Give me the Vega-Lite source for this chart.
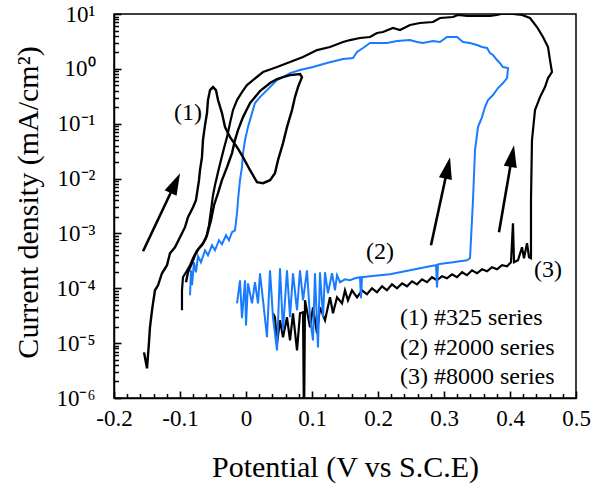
{
  "$schema": "https://vega.github.io/schema/vega-lite/v6.json",
  "width": 462,
  "height": 384,
  "autosize": {"type": "none"},
  "padding": {"left": 114, "top": 14, "right": 15, "bottom": 98},
  "background": "white",
  "config": {
    "view": {"stroke": "black", "strokeWidth": 1.5},
    "font": "Liberation Serif",
    "axis": {
      "domainColor": "black", "domainWidth": 1.5,
      "tickColor": "black", "tickWidth": 1.5,
      "labelColor": "black", "titleColor": "black",
      "grid": false,
      "labelFont": "Liberation Serif", "titleFont": "Liberation Serif",
      "titleFontWeight": "normal"
    }
  },
  "datasets": {
    "s1": [
      {"x":-0.1545,"y":6.79e-6},{"x":-0.15,"y":3.47e-6},{"x":-0.147,"y":1.035e-5},{"x":-0.1455,"y":1.94e-5},{"x":-0.1424,"y":3.97e-5},{"x":-0.1409,"y":5.32e-5},{"x":-0.1379,"y":9.2e-5},{"x":-0.1333,"y":1.135e-4},{"x":-0.1273,"y":1.88e-4},{"x":-0.1197,"y":2.63e-4},{"x":-0.1152,"y":4.35e-4},{"x":-0.1076,"y":5.6e-4},{"x":-0.1,"y":8.53e-4},{"x":-0.0924,"y":1.3e-3},{"x":-0.0879,"y":1.98e-3},{"x":-0.0803,"y":3.0e-3},{"x":-0.0758,"y":4.04e-3},{"x":-0.0712,"y":9.35e-3},{"x":-0.0697,"y":1.42e-2},{"x":-0.0667,"y":2.46e-2},{"x":-0.0652,"y":5.02e-2},{"x":-0.0621,"y":9.42e-2},{"x":-0.0591,"y":0.156},{"x":-0.0576,"y":0.27},{"x":-0.0545,"y":0.41},{"x":-0.05,"y":0.466},{"x":-0.0455,"y":0.41},{"x":-0.0424,"y":0.27},{"x":-0.0364,"y":0.156},{"x":-0.0318,"y":8.67e-2},{"x":-0.0242,"y":5.69e-2},{"x":-0.0136,"y":3.74e-2},{"x":-0.0045,"y":2.46e-2},{"x":0.0061,"y":1.42e-2},{"x":0.0167,"y":8.59e-3},{"x":0.0258,"y":8.24e-3},{"x":0.0364,"y":9.35e-3},{"x":0.0439,"y":1.256e-2},{"x":0.0485,"y":2.17e-2},{"x":0.0561,"y":4.43e-2},{"x":0.0621,"y":8.67e-2},{"x":0.0697,"y":0.177},{"x":0.0742,"y":0.306},{"x":0.0788,"y":0.466},{"x":0.0848,"y":0.708},{"x":0.0818,"y":0.804},{"x":0.0667,"y":0.77},{"x":0.0561,"y":0.708},{"x":0.047,"y":0.652},{"x":0.0364,"y":0.551},{"x":0.0212,"y":0.394},{"x":0.0061,"y":0.238},{"x":-0.0045,"y":0.132},{"x":-0.0121,"y":7.64e-2},{"x":-0.0167,"y":5.02e-2},{"x":-0.0212,"y":2.91e-2},{"x":-0.0288,"y":1.61e-2},{"x":-0.0364,"y":9.35e-3},{"x":-0.0424,"y":5.42e-3},{"x":-0.0485,"y":3.27e-3},{"x":-0.053,"y":1.74e-3},{"x":-0.0591,"y":9.27e-4},{"x":-0.0652,"y":6.62e-4},{"x":-0.0712,"y":5.37e-4},{"x":-0.0773,"y":4.0e-4},{"x":-0.0833,"y":2.63e-4},{"x":-0.0879,"y":1.96e-4},{"x":-0.0909,"y":1.29e-4}
    ],
    "s2": [
      {"x":-0.0136,"y":5.32e-5},{"x":-0.0091,"y":1.4e-4},{"x":-0.0061,"y":2.84e-5},{"x":-0.0015,"y":1.4e-4},{"x":0.0,"y":2.11e-5},{"x":0.003,"y":1.23e-4},{"x":0.0091,"y":5.32e-5},{"x":0.0136,"y":1.29e-4},{"x":0.0182,"y":5.32e-5},{"x":0.0212,"y":1.88e-4},{"x":0.0258,"y":6.04e-5},{"x":0.0318,"y":1.28e-5},{"x":0.0364,"y":2.13e-4},{"x":0.0409,"y":2.96e-5},{"x":0.047,"y":7.39e-6},{"x":0.0515,"y":2.32e-4},{"x":0.0561,"y":1.71e-5},{"x":0.0621,"y":2.13e-4},{"x":0.0667,"y":2.96e-5},{"x":0.0712,"y":1.88e-4},{"x":0.0773,"y":3.97e-5},{"x":0.0818,"y":2.13e-4},{"x":0.0864,"y":6.04e-5},{"x":0.0924,"y":2.13e-4},{"x":0.097,"y":2.96e-5},{"x":0.1015,"y":1.12e-5},{"x":0.1045,"y":1.88e-4},{"x":0.1091,"y":8.38e-6},{"x":0.1121,"y":1.96e-4},{"x":0.1167,"y":2.96e-5},{"x":0.1197,"y":1.96e-4},{"x":0.1242,"y":8.11e-5},{"x":0.1303,"y":1.88e-4},{"x":0.1348,"y":9.2e-5},{"x":0.1379,"y":1.73e-4},{"x":0.1424,"y":1.29e-4},{"x":0.15,"y":1.46e-4},{"x":0.1576,"y":1.4e-4},{"x":0.1652,"y":1.52e-4},{"x":0.1727,"y":1.59e-4},{"x":0.1742,"y":6.58e-5},{"x":0.1758,"y":1.59e-4},{"x":0.1879,"y":1.66e-4},{"x":0.203,"y":1.73e-4},{"x":0.2182,"y":1.8e-4},{"x":0.2333,"y":1.96e-4},{"x":0.2485,"y":2.13e-4},{"x":0.2636,"y":2.32e-4},{"x":0.2788,"y":2.52e-4},{"x":0.2879,"y":2.63e-4},{"x":0.2894,"y":1.04e-4},{"x":0.2909,"y":2.74e-4},{"x":0.3015,"y":2.86e-4},{"x":0.3136,"y":2.98e-4},{"x":0.3242,"y":3.11e-4},{"x":0.3348,"y":3.24e-4},{"x":0.3394,"y":3.53e-4},{"x":0.3424,"y":1.74e-3},{"x":0.3439,"y":4.04e-3},{"x":0.347,"y":3.3e-2},{"x":0.3515,"y":8.67e-2},{"x":0.3576,"y":0.132},{"x":0.3621,"y":0.201},{"x":0.3667,"y":0.27},{"x":0.3742,"y":0.333},{"x":0.3818,"y":0.447},{"x":0.3894,"y":0.551},{"x":0.3955,"y":0.679},{"x":0.397,"y":1.034},{"x":0.3894,"y":1.08},{"x":0.3848,"y":1.276},{"x":0.3803,"y":1.447},{"x":0.3742,"y":1.786},{"x":0.3697,"y":1.94},{"x":0.3652,"y":2.4},{"x":0.3576,"y":2.5},{"x":0.35,"y":2.72},{"x":0.3394,"y":2.96},{"x":0.3288,"y":3.08},{"x":0.3197,"y":3.8},{"x":0.3045,"y":3.8},{"x":0.2939,"y":3.08},{"x":0.2833,"y":3.22},{"x":0.2682,"y":2.96},{"x":0.2591,"y":3.08},{"x":0.2485,"y":3.35},{"x":0.2288,"y":3.22},{"x":0.2136,"y":2.96},{"x":0.1985,"y":2.96},{"x":0.1879,"y":2.96},{"x":0.1773,"y":2.4},{"x":0.1682,"y":2.03},{"x":0.1621,"y":1.575},{"x":0.147,"y":1.51},{"x":0.1227,"y":1.276},{"x":0.1015,"y":1.08},{"x":0.0818,"y":0.951},{"x":0.0667,"y":0.838},{"x":0.0561,"y":0.708},{"x":0.047,"y":0.625},{"x":0.0318,"y":0.41},{"x":0.0212,"y":0.306},{"x":0.0136,"y":0.238},{"x":0.0091,"y":0.156},{"x":0.003,"y":8.67e-2},{"x":-0.0015,"y":5.02e-2},{"x":-0.0045,"y":2.91e-2},{"x":-0.0061,"y":1.61e-2},{"x":-0.0091,"y":9.35e-3},{"x":-0.0121,"y":4.04e-3},{"x":-0.0136,"y":2.34e-3},{"x":-0.0167,"y":1.14e-3},{"x":-0.0212,"y":1.05e-3},{"x":-0.0258,"y":7.51e-4},{"x":-0.0303,"y":9.27e-4},{"x":-0.0364,"y":6.35e-4},{"x":-0.0409,"y":7.51e-4},{"x":-0.047,"y":4.93e-4},{"x":-0.0515,"y":6.09e-4},{"x":-0.0576,"y":4.0e-4},{"x":-0.0621,"y":4.93e-4},{"x":-0.0682,"y":2.98e-4},{"x":-0.0727,"y":3.84e-4},{"x":-0.0758,"y":1.96e-4},{"x":-0.0788,"y":2.98e-4},{"x":-0.0818,"y":1.135e-4},{"x":-0.0833,"y":2.13e-4},{"x":-0.0848,"y":7.45e-5}
    ],
    "s3": [
      {"x":0.0409,"y":3.5e-5},{"x":0.0439,"y":2.96e-5},{"x":0.047,"y":9.9e-6},{"x":0.0515,"y":2.61e-5},{"x":0.0561,"y":1.28e-5},{"x":0.0621,"y":2.96e-5},{"x":0.0667,"y":1.12e-5},{"x":0.0712,"y":3.5e-5},{"x":0.0773,"y":7.39e-6},{"x":0.0818,"y":3.5e-5},{"x":0.0864,"y":3.65e-5},{"x":0.0879,"y":2.56e-7},{"x":0.0894,"y":6.04e-5},{"x":0.097,"y":1.94e-5},{"x":0.1015,"y":4.5e-5},{"x":0.1076,"y":1.51e-5},{"x":0.1121,"y":4.5e-5},{"x":0.1197,"y":2.61e-5},{"x":0.1273,"y":6.85e-5},{"x":0.1318,"y":3.5e-5},{"x":0.1379,"y":6.85e-5},{"x":0.1455,"y":5.32e-5},{"x":0.15,"y":9.2e-5},{"x":0.1545,"y":6.04e-5},{"x":0.1606,"y":9.2e-5},{"x":0.1682,"y":6.85e-5},{"x":0.1758,"y":9.2e-5},{"x":0.1833,"y":7.78e-5},{"x":0.1909,"y":1.0e-4},{"x":0.1985,"y":8.45e-5},{"x":0.2061,"y":1.087e-4},{"x":0.2136,"y":9.2e-5},{"x":0.2212,"y":1.18e-4},{"x":0.2288,"y":1.0e-4},{"x":0.2364,"y":1.23e-4},{"x":0.2439,"y":1.087e-4},{"x":0.2515,"y":1.34e-4},{"x":0.2591,"y":1.18e-4},{"x":0.2667,"y":1.46e-4},{"x":0.2742,"y":1.29e-4},{"x":0.2818,"y":1.59e-4},{"x":0.2894,"y":1.4e-4},{"x":0.297,"y":1.66e-4},{"x":0.3045,"y":1.52e-4},{"x":0.3121,"y":1.8e-4},{"x":0.3197,"y":1.59e-4},{"x":0.3273,"y":1.96e-4},{"x":0.3348,"y":1.73e-4},{"x":0.3424,"y":2.13e-4},{"x":0.35,"y":1.88e-4},{"x":0.3576,"y":2.22e-4},{"x":0.3652,"y":2.04e-4},{"x":0.3727,"y":2.42e-4},{"x":0.3803,"y":2.22e-4},{"x":0.3879,"y":2.63e-4},{"x":0.3955,"y":2.52e-4},{"x":0.4015,"y":2.98e-4},{"x":0.4045,"y":1.53e-3},{"x":0.4061,"y":2.98e-4},{"x":0.4121,"y":3.24e-4},{"x":0.4182,"y":5.6e-4},{"x":0.4212,"y":3.53e-4},{"x":0.4258,"y":6.62e-4},{"x":0.4288,"y":3.68e-4},{"x":0.4318,"y":3.53e-4},{"x":0.4318,"y":4.04e-3},{"x":0.4333,"y":5.02e-2},{"x":0.4379,"y":0.177},{"x":0.4455,"y":0.306},{"x":0.453,"y":0.466},{"x":0.4576,"y":0.679},{"x":0.4636,"y":0.874},{"x":0.4606,"y":1.447},{"x":0.4576,"y":2.5},{"x":0.45,"y":3.8},{"x":0.4409,"y":5.79},{"x":0.4303,"y":8.45},{"x":0.4182,"y":9.59},{"x":0.4045,"y":10.0},{"x":0.3894,"y":10.2},{"x":0.3803,"y":9.59},{"x":0.3697,"y":9.19},{"x":0.3545,"y":9.19},{"x":0.3348,"y":9.19},{"x":0.3212,"y":9.59},{"x":0.3136,"y":8.81},{"x":0.2939,"y":8.45},{"x":0.2833,"y":7.14},{"x":0.2636,"y":6.85},{"x":0.2485,"y":6.3},{"x":0.2333,"y":5.11},{"x":0.2227,"y":5.55},{"x":0.2076,"y":4.69},{"x":0.1985,"y":4.5},{"x":0.1879,"y":3.8},{"x":0.1727,"y":3.65},{"x":0.1576,"y":3.35},{"x":0.147,"y":3.08},{"x":0.1273,"y":2.5},{"x":0.1076,"y":2.2},{"x":0.0864,"y":1.64},{"x":0.0667,"y":1.33},{"x":0.047,"y":1.08},{"x":0.0258,"y":0.874},{"x":0.0106,"y":0.625},{"x":0.0015,"y":0.506},{"x":-0.0061,"y":0.377},{"x":-0.0136,"y":0.27},{"x":-0.0197,"y":0.177},{"x":-0.0242,"y":0.1026},{"x":-0.0288,"y":5.69e-2},{"x":-0.0333,"y":3.59e-2},{"x":-0.0379,"y":2.17e-2},{"x":-0.0424,"y":1.31e-2},{"x":-0.047,"y":7.58e-3},{"x":-0.05,"y":4.98e-3},{"x":-0.053,"y":2.65e-3},{"x":-0.0561,"y":1.41e-3},{"x":-0.0606,"y":8.17e-4},{"x":-0.0667,"y":6.09e-4},{"x":-0.0742,"y":4.93e-4},{"x":-0.0803,"y":3.53e-4},{"x":-0.0848,"y":2.63e-4},{"x":-0.0909,"y":1.96e-4},{"x":-0.0955,"y":1.59e-4},{"x":-0.097,"y":9.2e-5},{"x":-0.097,"y":3.97e-5}
    ],
    "arrows": [
      {"arrow":"A","part":"tail","x":-0.156,"y":4.73e-4},{"arrow":"A","part":"head","x":-0.1071,"y":8.28e-3},
      {"arrow":"B","part":"tail","x":0.2803,"y":6.09e-4},{"arrow":"B","part":"head","x":0.3056,"y":1.56e-2},
      {"arrow":"C","part":"tail","x":0.3833,"y":1.05e-3},{"arrow":"C","part":"head","x":0.4032,"y":2.58e-2}
    ],
    "labels": [
      {"text":"(1)","x":-0.0879,"y":0.156},
      {"text":"(2)","x":0.203,"y":4.54e-4},
      {"text":"(3)","x":0.4576,"y":2.13e-4}
    ],
    "legend": [
      {"text":"(1) #325 series","x":0.2333,"y":2.84e-5},
      {"text":"(2) #2000 series","x":0.2333,"y":8.04e-6},
      {"text":"(3) #8000 series","x":0.2333,"y":2.38e-6}
    ]
  },
  "layer": [
    {
      "encoding": {
        "x": {
          "field": "x", "type": "quantitative",
          "scale": {"domain": [-0.2, 0.5], "nice": false, "zero": false},
          "axis": {
            "orient": "bottom",
            "values": [-0.2, -0.1, 0, 0.1, 0.2, 0.3, 0.4, 0.5],
            "labelExpr": "toString(round(datum.value*10)/10)",
            "labelFlush": false, "labelOverlap": false,
            "ticks": false, "labelPadding": 9, "labelFontSize": 23,
            "title": "Potential (V vs S.C.E)", "titleFontSize": 30,
            "titleY": 69, "titleBaseline": "middle"
          }
        },
        "y": {
          "field": "y", "type": "quantitative",
          "scale": {"type": "log", "domain": [1e-6, 10], "nice": false},
          "axis": {
            "orient": "left",
            "values": [1e-6, 1e-5, 1e-4, 1e-3, 0.01, 0.1, 1, 10],
            "labelExpr": "'10' + (datum.value < 0.5 ? '⁻' : '') + ['⁰','¹','²','³','⁴','⁵','⁶'][abs(round(log(datum.value)/LN10))]",
            "labelOverlap": false, "labelFlush": false,
            "ticks": false, "labelPadding": 19, "labelFontSize": 23,
            "title": "Current density (mA/cm²)", "titleFontSize": 30,
            "titleX": -86, "titleY": 188, "titleAngle": -90,
            "titleAlign": "center", "titleBaseline": "middle"
          }
        }
      },
      "layer": [
        {"data": {"name": "s3"}, "mark": {"type": "line", "color": "black", "strokeWidth": 2.2, "clip": true}, "encoding": {"order": {"value": null}}},
        {"data": {"name": "s2"}, "mark": {"type": "line", "color": "#1a7bff", "strokeWidth": 2, "clip": true}, "encoding": {"order": {"value": null}}},
        {"data": {"name": "s1"}, "mark": {"type": "line", "color": "black", "strokeWidth": 2.4, "clip": true}, "encoding": {"order": {"value": null}}},
        {"data": {"name": "arrows"}, "mark": {"type": "line", "color": "black", "strokeWidth": 2.6}, "encoding": {"detail": {"field": "arrow"}}},
        {"data": {"name": "arrows"}, "transform": [{"filter": "datum.part == 'head' && datum.arrow == 'A'"}], "mark": {"type": "point", "shape": "M0,-1L0.6,1L-0.6,1Z", "size": 484, "filled": true, "color": "black", "opacity": 1, "angle": 25.4}},
        {"data": {"name": "arrows"}, "transform": [{"filter": "datum.part == 'head' && datum.arrow == 'B'"}], "mark": {"type": "point", "shape": "M0,-1L0.6,1L-0.6,1Z", "size": 484, "filled": true, "color": "black", "opacity": 1, "angle": 12.2}},
        {"data": {"name": "arrows"}, "transform": [{"filter": "datum.part == 'head' && datum.arrow == 'C'"}], "mark": {"type": "point", "shape": "M0,-1L0.6,1L-0.6,1Z", "size": 484, "filled": true, "color": "black", "opacity": 1, "angle": 9.8}},
        {"data": {"name": "labels"}, "mark": {"type": "text", "font": "Liberation Serif", "fontSize": 24, "align": "center", "baseline": "middle", "color": "black"}, "encoding": {"text": {"field": "text"}}},
        {"data": {"name": "legend"}, "mark": {"type": "text", "font": "Liberation Serif", "fontSize": 24, "align": "left", "baseline": "middle", "color": "black"}, "encoding": {"text": {"field": "text"}}}
      ]
    },
    {
      "data": {"values": [{"x": 0, "y": 1}]},
      "mark": {"type": "point", "opacity": 0},
      "encoding": {
        "x": {
          "field": "x", "type": "quantitative",
          "scale": {"domain": [-0.2, 0.5], "nice": false, "zero": false},
          "axis": {
            "orient": "top", "offset": -384,
            "values": [-0.2, -0.1, 0, 0.1, 0.2, 0.3, 0.4, 0.5],
            "labels": false, "domain": false, "ticks": true, "tickSize": 7, "tickWidth": 1.6, "zindex": 1, "title": null
          }
        },
        "y": {
          "field": "y", "type": "quantitative",
          "scale": {"type": "log", "domain": [1e-6, 10], "nice": false},
          "axis": {
            "orient": "right", "offset": -462,
            "values": [1e-6, 1e-5, 1e-4, 1e-3, 0.01, 0.1, 1, 10],
            "labels": false, "domain": false, "ticks": true, "tickSize": 7, "tickWidth": 1.6, "zindex": 1, "title": null
          }
        }
      }
    },
    {
      "data": {"values": [{"x": 0, "y": 1}]},
      "mark": {"type": "point", "opacity": 0},
      "encoding": {
        "x": {
          "field": "x", "type": "quantitative",
          "scale": {"domain": [-0.2, 0.5], "nice": false, "zero": false},
          "axis": {
            "orient": "top", "offset": -384,
            "values": [-0.18,-0.16,-0.14,-0.12,-0.08,-0.06,-0.04,-0.02,0.02,0.04,0.06,0.08,0.12,0.14,0.16,0.18,0.22,0.24,0.26,0.28,0.32,0.34,0.36,0.38,0.42,0.44,0.46,0.48],
            "labels": false, "domain": false, "ticks": true, "tickSize": 4.5, "tickWidth": 1.5, "zindex": 1, "title": null
          }
        },
        "y": {
          "field": "y", "type": "quantitative",
          "scale": {"type": "log", "domain": [1e-6, 10], "nice": false},
          "axis": {
            "orient": "right", "offset": -462,
            "values": [2e-6,3e-6,4e-6,5e-6,6e-6,7e-6,8e-6,9e-6,2e-5,3e-5,4e-5,5e-5,6e-5,7e-5,8e-5,9e-5,2e-4,3e-4,4e-4,5e-4,6e-4,7e-4,8e-4,9e-4,2e-3,3e-3,4e-3,5e-3,6e-3,7e-3,8e-3,9e-3,0.02,0.03,0.04,0.05,0.06,0.07,0.08,0.09,0.2,0.3,0.4,0.5,0.6,0.7,0.8,0.9,2,3,4,5,6,7,8,9],
            "labels": false, "domain": false, "ticks": true, "tickSize": 4.5, "tickWidth": 1.5, "zindex": 1, "title": null
          }
        }
      }
    }
  ],
  "resolve": {
    "scale": {"x": "independent", "y": "independent"},
    "axis": {"x": "independent", "y": "independent"}
  }
}
